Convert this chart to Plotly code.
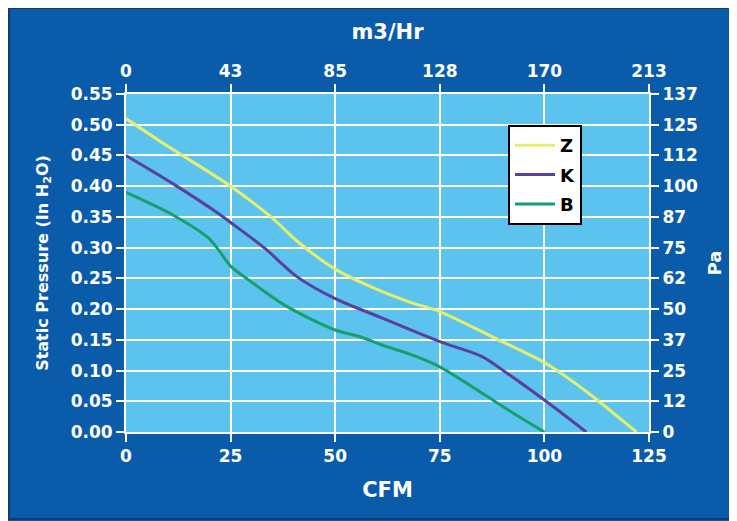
import plotly.graph_objects as go

# ---- data ----
z_cfm = [0, 10, 25, 35, 41, 50, 60, 68, 75, 89, 100, 110, 122]
z_inh2o = [0.51, 0.465, 0.40, 0.348, 0.310, 0.265, 0.232, 0.211, 0.196, 0.15, 0.113, 0.066, 0.0]

k_cfm = [0, 11, 22, 25, 33, 41, 50, 61, 75, 85, 91, 100, 110]
k_inh2o = [0.45, 0.405, 0.356, 0.341, 0.30, 0.252, 0.217, 0.186, 0.147, 0.123, 0.096, 0.052, 0.0]

b_cfm = [0, 11, 20, 25, 29, 38, 50, 56, 61, 68.5, 75, 84.5, 92.5, 100]
b_inh2o = [0.39, 0.354, 0.314, 0.27, 0.249, 0.206, 0.166, 0.155, 0.142, 0.125, 0.106, 0.066, 0.031, 0.0]

series_names = ["Z", "K", "B"]
cfm_ticks = [0, 25, 50, 75, 100, 125]
m3hr_labels = ["0", "43", "85", "128", "170", "213"]
inh2o_ticks = [0.00, 0.05, 0.10, 0.15, 0.20, 0.25, 0.30, 0.35, 0.40, 0.45, 0.50, 0.55]
pa_labels = ["0", "12", "25", "37", "50", "62", "75", "87", "100", "112", "125", "137"]

# ---- style ----
PANEL = "#0a5cab"
PLOTBG = "#5cc3ee"
COLORS = ["#e6ef6c", "#5a3fa0", "#17a06c"]
FONT = "DejaVu Sans"
W, H = 729, 513
ML, MR, MT, MB = 118, 88, 86, 89
PW, PH = W - ML - MR, H - MT - MB


def px_to_paper_x(px):
    return (px - ML) / PW


def px_to_paper_y(py):
    return (H - MB - py) / PH


fig = go.Figure()
for name, xs, ys, col in zip(series_names, [z_cfm, k_cfm, b_cfm],
                             [z_inh2o, k_inh2o, b_inh2o], COLORS):
    fig.add_trace(go.Scatter(x=xs, y=ys, name=name, mode="lines",
                             line=dict(color=col, width=3, shape="spline", smoothing=0.8),
                             legendgroup=name))

# empty trace so the secondary (m3/Hr, Pa) axes are drawn
fig.add_trace(go.Scatter(x=[], y=[], xaxis="x2", yaxis="y2", showlegend=False,
                         hoverinfo="skip"))

tickfont = dict(family=FONT, size=17, color="white", weight="bold")
titlefont = dict(family=FONT, size=21, color="white", weight="bold")

line_common = dict(showline=True, linecolor="white", linewidth=2,
                   ticks="outside", ticklen=8, tickcolor="white", tickwidth=2,
                   zeroline=False, tickfont=tickfont)

fig.update_layout(
    width=W, height=H,
    margin=dict(l=ML, r=MR, t=MT, b=MB),
    paper_bgcolor=PANEL, plot_bgcolor=PLOTBG,
    xaxis=dict(range=[0, 125], tickvals=cfm_ticks, showgrid=True, gridcolor="white",
               gridwidth=2, ticklabelstandoff=0,
               title=dict(text="CFM", font=titlefont, standoff=17), **line_common),
    xaxis2=dict(range=[0, 125], tickvals=cfm_ticks, ticktext=m3hr_labels,
                overlaying="x", side="top", anchor="y", showgrid=False,
                title=dict(text="m3/Hr", font=titlefont, standoff=16), **line_common),
    yaxis=dict(range=[0, 0.55], tickvals=inh2o_ticks, tickformat=".2f", showgrid=True,
               gridcolor="white", gridwidth=2,
               title=dict(text="Static Pressure (In H<sub>2</sub>O)",
                          font=dict(family=FONT, size=16, color="white", weight="bold"),
                          standoff=18), **line_common),
    yaxis2=dict(range=[0, 0.55], tickvals=inh2o_ticks, ticktext=pa_labels,
                overlaying="y", side="right", anchor="x", showgrid=False,
                title=dict(text="Pa", font=dict(family=FONT, size=18, color="white",
                                                weight="bold"), standoff=11),
                **line_common),
    legend=dict(x=px_to_paper_x(500), y=px_to_paper_y(117), xanchor="left", yanchor="top",
                bgcolor="white", bordercolor="black", borderwidth=2,
                font=dict(family=FONT, size=18, color="black", weight="bold"),
                tracegroupgap=3, itemwidth=40),
    showlegend=True,
    shapes=[
        dict(type="rect", xref="paper", yref="paper",
             x0=px_to_paper_x(1), x1=px_to_paper_x(745),
             y0=px_to_paper_y(511), y1=px_to_paper_y(0),
             fillcolor="rgba(0,0,0,0)", line=dict(color="#163a66", width=2), layer="above"),
    ],
)

fig.write_html("out.html")
